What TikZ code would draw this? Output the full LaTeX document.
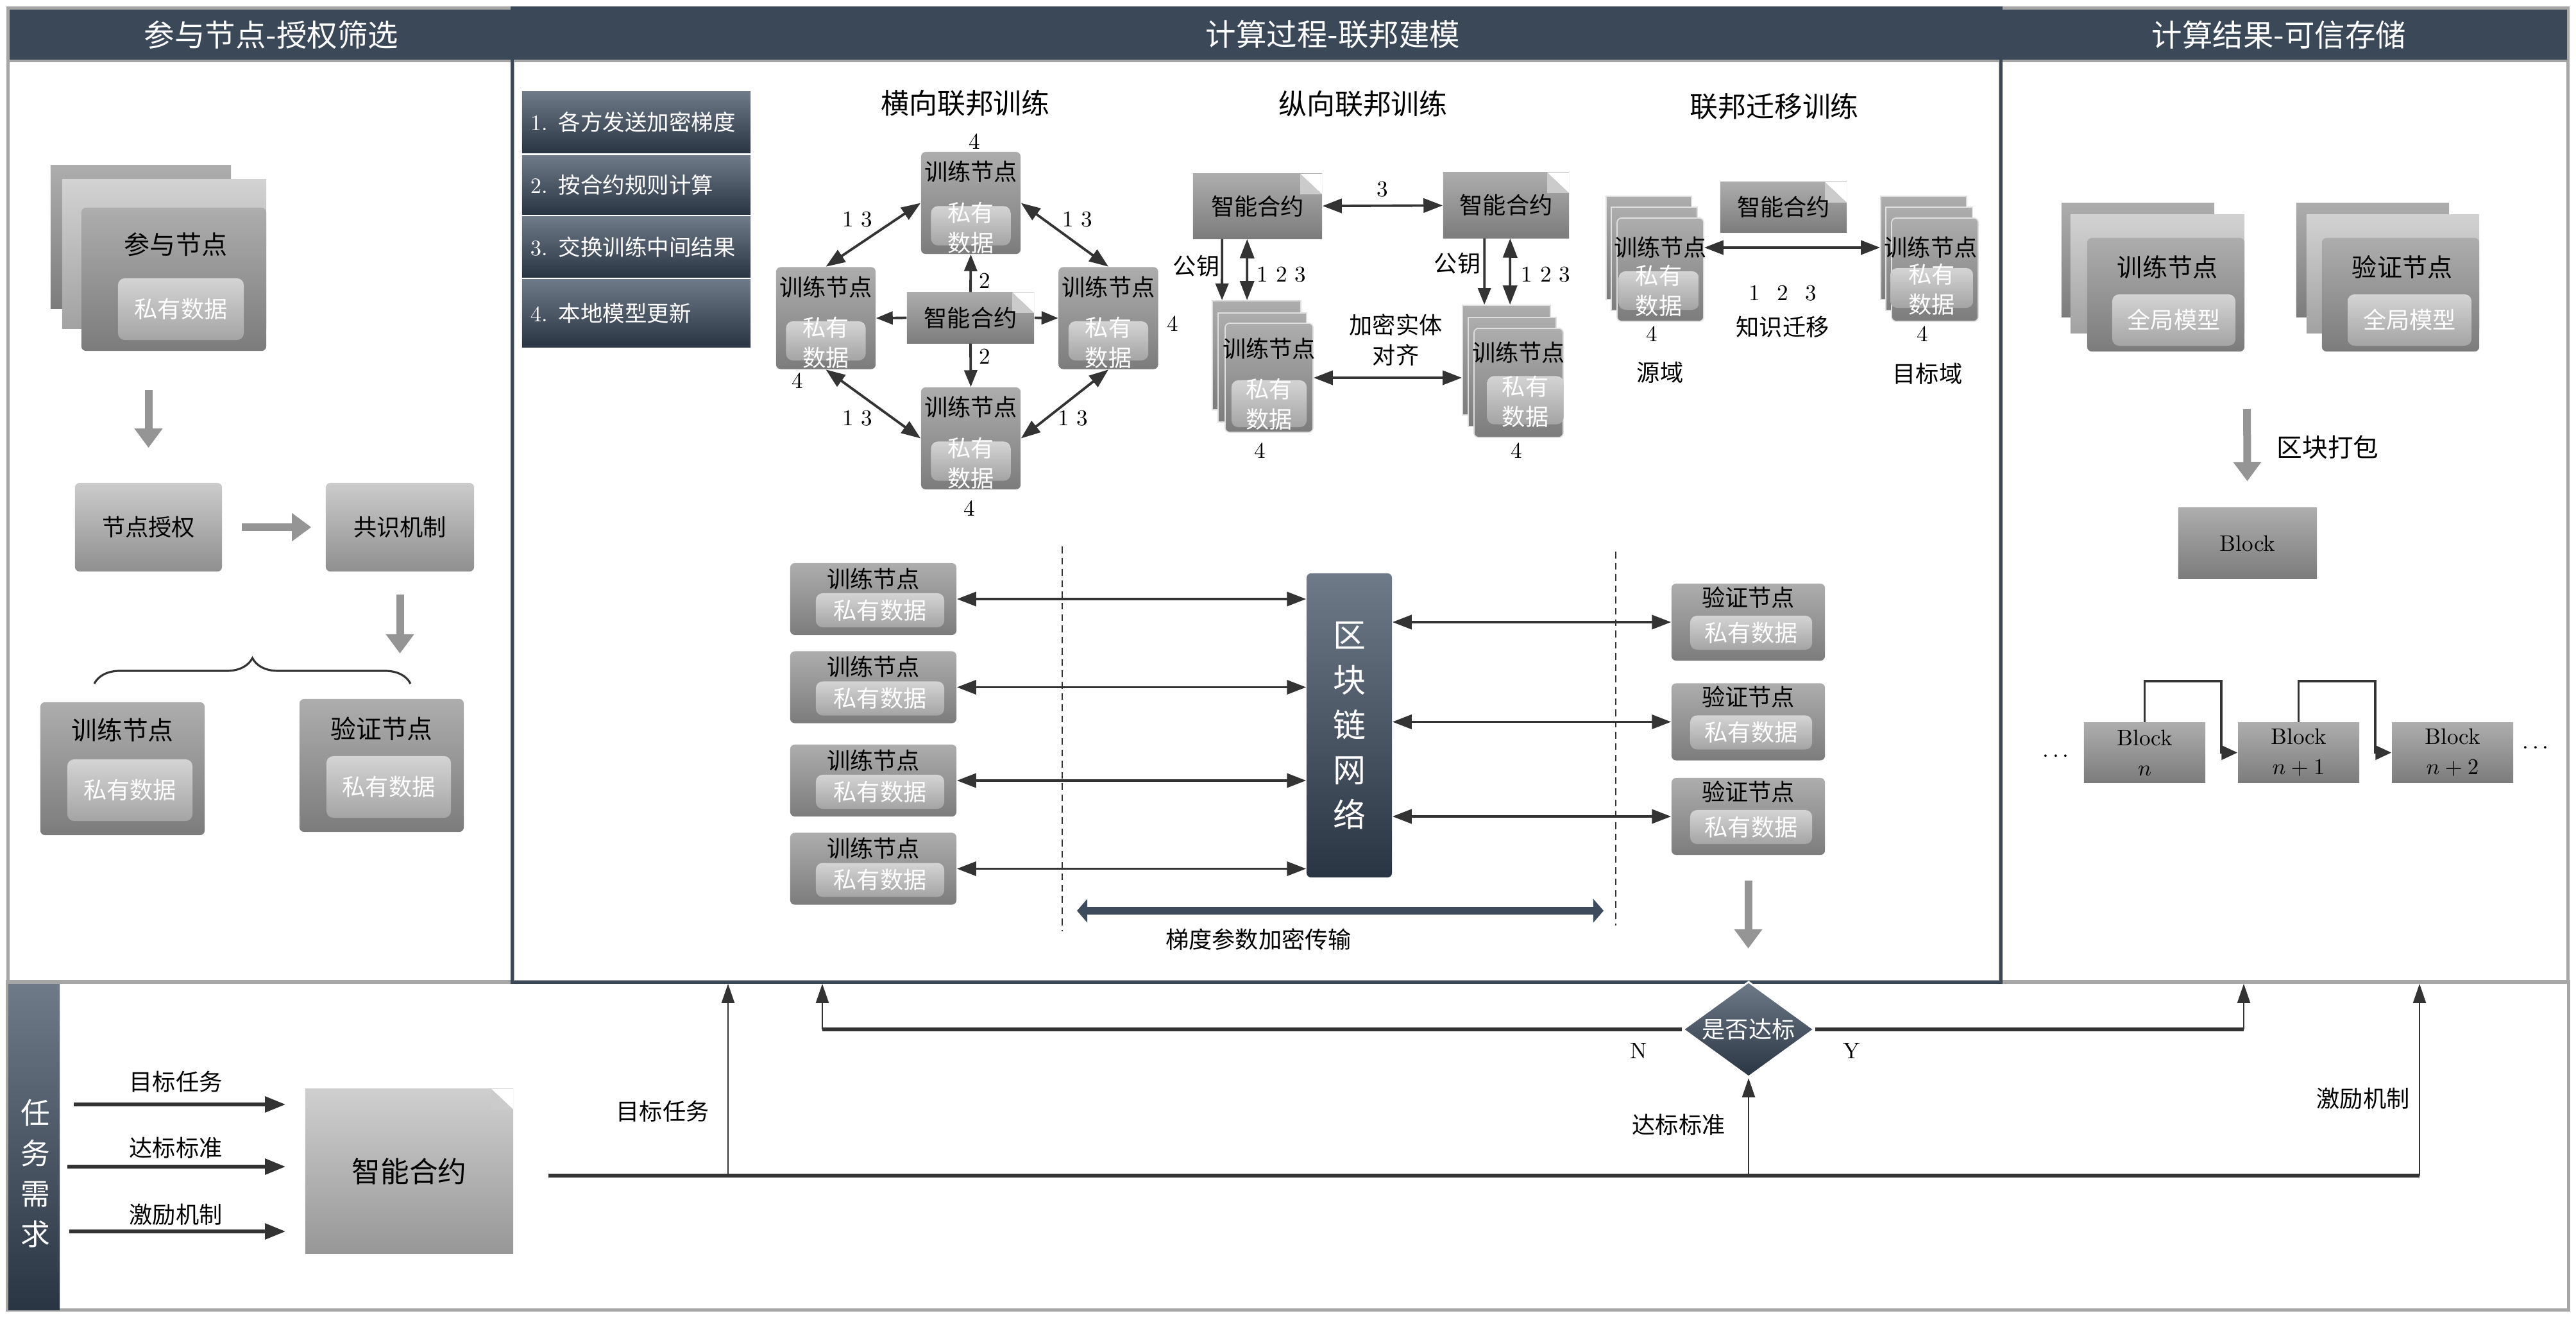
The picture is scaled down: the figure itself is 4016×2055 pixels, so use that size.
\documentclass[tikz,border=0pt]{standalone}
\usepackage{fontspec}
\newfontfamily\cjk{Noto Sans CJK SC}
\usetikzlibrary{arrows.meta,shapes.geometric,shadings,decorations.pathreplacing}
\newcommand\zh[2]{\cjk\fontsize{#1}{#2}\selectfont}
\definecolor{hdr}{HTML}{3A4858}
\definecolor{frame}{HTML}{A6A6A6}
\definecolor{slatetop}{HTML}{6E7A88}
\definecolor{slatebot}{HTML}{2A3544}
\definecolor{boxtop}{HTML}{ADADAD}
\definecolor{boxbot}{HTML}{7C7C7C}
\definecolor{midtop}{HTML}{D2D2D2}
\definecolor{midbot}{HTML}{A2A2A2}
\definecolor{ltop}{HTML}{CBCBCB}
\definecolor{lbot}{HTML}{8F8F8F}
\definecolor{intop}{HTML}{D4D4D4}
\definecolor{inbot}{HTML}{A4A4A4}
\definecolor{sctop}{HTML}{CFCFCF}
\definecolor{scbot}{HTML}{979797}
\definecolor{foldc}{HTML}{CBCBCB}
\definecolor{ln}{HTML}{333333}
\definecolor{garr}{HTML}{959595}
\definecolor{barc}{HTML}{3D4B5C}
\tikzset{
  sz/.style 2 args={minimum width=#1cm, minimum height=#2cm, inner sep=0pt},
  panel/.style={draw=frame, line width=1.4pt, inner sep=0pt},
  hd/.style={fill=hdr, draw=frame, line width=1pt, inner sep=0pt},
  htext/.style={text=white, inner sep=0pt, font=\zh{13.5}{16}},
  gbox/.style={rectangle, rounded corners=2pt, top color=boxtop, bottom color=boxbot},
  lbox/.style={rectangle, rounded corners=2pt, top color=ltop, bottom color=lbot},
  backbox/.style={rectangle, top color=boxtop, bottom color=boxbot},
  midbox/.style={rectangle, top color=midtop, bottom color=midbot},
  layer/.style={draw=white!75!gray, line width=0.5pt},
  inbox/.style={rectangle, rounded corners=3pt, top color=intop, bottom color=inbot},
  slate/.style={top color=slatetop, bottom color=slatebot, text=white},
  contract/.style={rectangle, top color=boxtop, bottom color=boxbot,
    path picture={
      \fill[white] ([xshift=-0.34cm]path picture bounding box.north east) -- (path picture bounding box.north east) -- ([yshift=-0.32cm]path picture bounding box.north east) -- cycle;
      \fill[foldc] ([xshift=-0.34cm]path picture bounding box.north east) -- ([yshift=-0.32cm]path picture bounding box.north east) -- ([xshift=-0.34cm,yshift=-0.32cm]path picture bounding box.north east) -- cycle;}},
  txt/.style={inner sep=0pt, font=\zh{10.3}{13.4}, align=center},
  wtxt/.style={txt, text=white},
  num/.style={inner sep=0pt, font=\fontsize{10}{12}\selectfont},
  dbl/.style={{Triangle[length=0.3cm,width=0.22cm]}-{Triangle[length=0.3cm,width=0.22cm]}, draw=ln, line width=1.1pt},
  sgl/.style={-{Triangle[length=0.26cm,width=0.2cm]}, draw=ln, line width=1.1pt},
  garrow/.style={-{Triangle[length=0.3cm,width=0.42cm]}, draw=garr, line width=0.12cm},
  bar/.style={{Triangle[length=0.16cm,width=0.36cm]}-{Triangle[length=0.16cm,width=0.36cm]}, draw=barc, line width=0.12cm},
  thk/.style={draw=ln, line width=1.8pt},
  upar/.style={-{Triangle[length=0.3cm,width=0.2cm]}, draw=ln, line width=0.7pt},
  inar/.style={-{Triangle[length=0.32cm,width=0.24cm]}, draw=ln, line width=1.6pt},
  chainar/.style={-{Triangle[length=0.25cm,width=0.22cm]}, draw=ln, line width=1.1pt}
}
\begin{document}
\begin{tikzpicture}[x=0.01cm, y=-0.01cm]
  \useasboundingbox (0,0) rectangle (4016,2055);
  \fill[white] (0,0) rectangle (4016,2055);

  \node[panel, sz={7.86}{15.18}] (lp) at (406,772) {};
  \node[panel, sz={8.84}{15.18}] (rp) at (3561,772) {};
  \node[panel, sz={39.90}{5.11}] (bp) at (2008,1786.5) {};
  \node[hd, sz={7.86}{0.82}] (lh) at (406,54) {};
  \node[hd, sz={23.20}{0.82}] (mh) at (1959,54) {};
  \node[hd, sz={8.84}{0.82}] (rh) at (3561,54) {};
  \node[panel, draw=hdr, sz={23.20}{15.18}] (mp) at (1959,772) {};
  \node[htext] (lht) at (423,54) {参与节点-授权筛选};
  \node[htext] (mht) at (2078,54) {计算过程-联邦建模};
  \node[htext] (rht) at (3553,54) {计算结果-可信存储};

  % left panel
  \node[backbox, sz={2.81}{2.23}] (pa) at (219.5,369.5) {};
  \node[midbox, sz={3.18}{2.32}] (pb) at (256,396) {};
  \node[gbox, sz={2.88}{2.23}] (p) at (271,435.5) {};
  \node[txt, font=\zh{11.4}{13}] (pt) at (274,381) {参与节点};
  \node[inbox, sz={1.96}{0.96}, wtxt] (pd) at (282,482) {私有数据};
  \node[lbox, sz={2.29}{1.38}, txt] (auth) at (231.5,822) {节点授权};
  \node[lbox, sz={2.31}{1.38}, txt] (cons) at (623.5,822) {共识机制};
  \coordinate (brl) at (147,1066);
  \coordinate (brr) at (640,1066);
  \draw[garrow, shorten <=0.6cm, shorten >=0.54cm] (auth.north |- p.south) -- (auth.north);
  \draw[garrow, shorten <=0.3cm, shorten >=0.22cm] (auth) -- (cons);
  \draw[garrow, shorten <=0.35cm, shorten >=0.47cm] (cons.south) -- (cons.south |- brr);
  \draw[draw=ln, line width=0.9pt, decorate, decoration={brace, amplitude=0.4cm}] (brl) -- (brr);
  \node[gbox, sz={2.56}{2.07}] (tr) at (191,1198.5) {};
  \node[txt, font=\zh{11.3}{13}] (trt) at (191,1138) {训练节点};
  \node[inbox, sz={1.95}{0.96}, wtxt] (trd) at (202.5,1232) {私有数据};
  \node[gbox, sz={2.56}{2.07}] (vr) at (595,1193.5) {};
  \node[txt, font=\zh{11.3}{13}] (vrt) at (595,1136) {验证节点};
  \node[inbox, sz={1.94}{0.96}, wtxt] (vrd) at (606,1227) {私有数据};

  % steps
  \foreach \i/\y/\h/\s in {1/190.5/0.95cm/各方发送加密梯度, 2/288.5/0.91cm/按合约规则计算, 3/385/0.94cm/交换训练中间结果, 4/488.5/1.05cm/本地模型更新}
    \node[slate, minimum width=3.56cm, minimum height=\h, inner xsep=0.13cm, inner ysep=0pt, text width=3.3cm, align=left, font=\zh{9.8}{12}] (st\i) at (992,\y) {{\rmfamily\i.} \s};

  \node[txt, font=\zh{12.5}{15}] (t1) at (1505,161) {横向联邦训练};
  \node[txt, font=\zh{12.5}{15}] (t2) at (2125,162) {纵向联邦训练};
  \node[txt, font=\zh{12.5}{15}] (t3) at (2766,166) {联邦迁移训练};

  % horizontal
  \foreach \n/\x/\y in {hT/1513.5/316.5, hL/1287.5/496, hR/1728/496, hB/1513.5/683.5} {
    \node[gbox, sz={1.55}{1.59}] (\n) at (\x,\y) {};
    \node[txt] (\n-t) at (\x,\y-48.5) {训练节点};
    \node[inbox, sz={1.24}{0.61}] (\n-d) at (\x,\y+35.5) {};
    \node[wtxt] (\n-dt) at (\x,\y+38.5) {私有\\数据};
  }
  \node[contract, sz={1.98}{0.79}, txt] (hC) at (1513,495.5) {智能合约};
  \draw[dbl] (hT.west) -- (hL.north);
  \draw[dbl] (hT.east) -- (hR.north);
  \draw[dbl] (hB.west) -- (hL.south);
  \draw[dbl] (hB.east) -- (hR.south);
  \draw[sgl] (hC.north) -- (hT.south);
  \draw[sgl] (hC.south) -- (hB.north);
  \draw[sgl] (hC.west) -- (hL.east);
  \draw[sgl] (hC.east) -- (hR.west);
  \node[num] (hk1) at (1519,221) {4};
  \node[num] (hk2) at (1243,594) {4};
  \node[num] (hk3) at (1828,505) {4};
  \node[num] (hk4) at (1511,793) {4};
  \node[num] (hm1) at (1337,342) {1 3};
  \node[num] (hm2) at (1680,342) {1 3};
  \node[num] (hm3) at (1337,652) {1 3};
  \node[num] (hm4) at (1673,652) {1 3};
  \node[num] (hs1) at (1535,438) {2};
  \node[num] (hs2) at (1535,556) {2};

  % vertical
  \node[contract, sz={2.01}{1.01}, txt] (vC1) at (1960.5,321.5) {智能合约};
  \node[contract, sz={1.96}{1.02}, txt] (vC2) at (2348,320) {智能合约};
  \draw[dbl] (vC1) -- (vC2);
  \node[num] (vk) at (2155,295) {3};
  \node[backbox, layer, sz={1.38}{1.70}] (v1a) at (1959,554) {};
  \node[backbox, layer, sz={1.38}{1.70}] (v1b) at (1968,573) {};
  \node[gbox, layer, sz={1.37}{1.70}] (v1) at (1978.5,589) {};
  \node[txt] (v1t) at (1978.5,544) {训练节点};
  \node[inbox, sz={1.17}{0.73}] (v1d) at (1978.5,629.5) {};
  \node[wtxt] (v1dt) at (1978.5,630) {私有\\数据};
  \node[backbox, layer, sz={1.37}{1.71}] (v2a) at (2348.5,561.5) {};
  \node[backbox, layer, sz={1.37}{1.70}] (v2b) at (2357.5,580) {};
  \node[gbox, layer, sz={1.39}{1.70}] (v2) at (2367.5,597) {};
  \node[txt] (v2t) at (2367.5,550) {训练节点};
  \node[inbox, sz={1.19}{0.75}] (v2d) at (2378,624) {};
  \node[wtxt] (v2dt) at (2378,626) {私有\\数据};
  \draw[sgl] ([xshift=0.46cm]vC1.south west) -- ([xshift=0.16cm]v1a.north west);
  \draw[dbl] ([xshift=0.85cm]vC1.south west) -- ([xshift=0.55cm]v1a.north west);
  \draw[sgl] ([xshift=0.65cm]vC2.south west) -- ([xshift=0.35cm]v2a.north west);
  \draw[dbl] ([xshift=1.05cm]vC2.south west) -- ([xshift=0.75cm]v2a.north west);
  \draw[dbl] (v1.east) -- (v1.east -| v2a.west);
  \node[txt] (vg1) at (1865,415) {公钥};
  \node[txt] (vg2) at (2272,411) {公钥};
  \node[num] (vn1) at (1998,428) {1 2 3};
  \node[num] (vn2) at (2410,428) {1 2 3};
  \node[txt] (val) at (2176,530) {加密实体\\对齐};
  \node[num] (vk1) at (1964,703) {4};
  \node[num] (vk2) at (2364,703) {4};

  % transfer
  \node[contract, sz={1.97}{0.78}, txt] (tC) at (2780.5,323) {智能合约};
  \node[backbox, layer, sz={1.33}{1.61}] (sa) at (2570.5,386.5) {};
  \node[backbox, layer, sz={1.34}{1.61}] (sb) at (2579,403.5) {};
  \node[gbox, layer, sz={1.35}{1.61}] (s) at (2588.5,420.5) {};
  \node[txt] (st) at (2588.5,386) {训练节点};
  \node[inbox, sz={1.25}{0.60}] (sd) at (2586,453) {};
  \node[wtxt] (sdt) at (2586,453) {私有\\数据};
  \node[backbox, layer, sz={1.34}{1.61}] (ta) at (2999,386.5) {};
  \node[backbox, layer, sz={1.35}{1.61}] (tb) at (3007.5,403.5) {};
  \node[gbox, layer, sz={1.35}{1.61}] (t) at (3016.5,420.5) {};
  \node[txt] (tt) at (3010,386) {训练节点};
  \node[inbox, sz={1.29}{0.62}] (td) at (3011.5,449) {};
  \node[wtxt] (tdt) at (3011.5,451) {私有\\数据};
  \draw[dbl] (st -| s.east) -- (st -| ta.west);
  \node[num] (tn) at (2779,457) {1\hspace{0.75em}2\hspace{0.75em}3};
  \node[txt] (tk) at (2779,510) {知识迁移};
  \node[num] (tk1) at (2575,521) {4};
  \node[num] (tk2) at (2997,521) {4};
  \node[txt] (src) at (2588,581) {源域};
  \node[txt] (dst) at (3005,583) {目标域};

  % blockchain network
  \coordinate (d1t) at (1656,852);
  \coordinate (d1b) at (1656,1452);
  \coordinate (d2t) at (2519,860);
  \coordinate (d2b) at (2519,1443);
  \draw[draw=ln, line width=0.5pt, dash pattern=on 3pt off 2pt] (d1t) -- (d1b);
  \draw[draw=ln, line width=0.5pt, dash pattern=on 3pt off 2pt] (d2t) -- (d2b);
  \node[slate, rounded corners=2pt, sz={1.33}{4.74}, align=center, font=\zh{14.5}{19.9}] (bc) at (2103.5,1131) {区\\块\\链\\网\\络};
  \foreach \i/\y in {1/934, 2/1071.5, 3/1217, 4/1354.5} {
    \node[gbox, sz={2.59}{1.12}] (L\i) at (1361.5,\y) {};
    \node[txt] (L\i-t) at (1361.5,\y-31.5) {训练节点};
    \node[inbox, sz={2.00}{0.53}, wtxt] (L\i-d) at (1372,\y+17.5) {私有数据};
    \draw[dbl] (L\i.east) -- (L\i.east -| bc.west);
  }
  \foreach \i/\y in {1/970, 2/1125.5, 3/1273} {
    \node[gbox, sz={2.39}{1.20}] (R\i) at (2725.5,\y) {};
    \node[txt] (R\i-t) at (2725.5,\y-38.5) {验证节点};
    \node[inbox, sz={1.90}{0.53}, wtxt] (R\i-d) at (2730,\y+16.5) {私有数据};
    \draw[dbl] (bc.east |- R\i) -- (R\i.west);
  }
  \coordinate (gl) at (1679,1420);
  \coordinate (gr) at (2500,1420);
  \draw[bar] (gl) -- (gr);
  \node[txt] (gt) at (1962,1465) {梯度参数加密传输};
  \draw[garrow, shorten <=0.39cm, shorten >=0.55cm] (R3.south) -- (R3.south |- mp.south);

  % right panel
  \node[backbox, sz={2.38}{1.77}] (rta) at (3333,405.5) {};
  \node[midbox, sz={2.71}{1.84}] (rtb) at (3363.5,427) {};
  \node[gbox, sz={2.45}{1.77}] (rt) at (3376.5,459.5) {};
  \node[txt, font=\zh{11.1}{13}] (rtt) at (3379,417) {训练节点};
  \node[inbox, sz={1.92}{0.80}, wtxt] (rtd) at (3389,499) {全局模型};
  \node[backbox, sz={2.38}{1.77}] (rva) at (3699,405.5) {};
  \node[midbox, sz={2.69}{1.84}] (rvb) at (3730.5,427) {};
  \node[gbox, sz={2.45}{1.77}] (rv) at (3742.5,459.5) {};
  \node[txt, font=\zh{11.1}{13}] (rvt) at (3745,417) {验证节点};
  \node[inbox, sz={1.93}{0.80}, wtxt] (rvd) at (3756.5,499) {全局模型};
  \coordinate (pack) at (3503,638);
  \node[backbox, sz={2.16}{1.10}, num] (blk) at (3504,847) {Block};
  \draw[garrow, shorten >=0.41cm] (pack) -- (blk);
  \node[txt, font=\zh{11.3}{13}] (packt) at (3629,697) {区块打包};
  \node[backbox, sz={1.89}{0.93}, num, align=center, font=\fontsize{10}{13.4}\selectfont] (bn) at (3343.5,1173.5) {Block\\$n$};
  \node[backbox, sz={1.89}{0.93}, num, align=center, font=\fontsize{10}{13.4}\selectfont] (bn1) at (3583.5,1173.5) {Block\\$n+1$};
  \node[backbox, sz={1.89}{0.93}, num, align=center, font=\fontsize{10}{13.4}\selectfont] (bn2) at (3823.5,1173.5) {Block\\$n+2$};
  \draw[chainar] (bn.north) -- ++(0,-64) -| ([xshift=-0.25cm]bn1.west) -- (bn1.west);
  \draw[chainar] (bn1.north) -- ++(0,-64) -| ([xshift=-0.25cm]bn2.west) -- (bn2.west);
  \node[num] (dl) at (3205,1180) {$\cdots$};
  \node[num] (dr) at (3953,1167) {$\cdots$};

  % bottom panel
  \node[slate, sz={0.80}{5.07}] (strip) at (53,1788.5) {};
  \node[wtxt, font=\zh{13}{17.9}] (stript) at (55,1830) {任\\务\\需\\求};
  \node[contract, top color=sctop, bottom color=scbot, sz={3.24}{2.56}, txt, font=\zh{12.7}{15}] (sc) at (638,1826) {智能合约};
  \coordinate (a1) at (115,1722);
  \coordinate (a2) at (105,1819);
  \coordinate (a3) at (108,1920);
  \draw[inar, shorten >=0.3cm] (a1) -- (a1 -| sc.west);
  \draw[inar, shorten >=0.3cm] (a2) -- (a2 -| sc.west);
  \draw[inar, shorten >=0.3cm] (a3) -- (a3 -| sc.west);
  \node[txt] (il1) at (274,1687) {目标任务};
  \node[txt] (il2) at (274,1790) {达标标准};
  \node[txt] (il3) at (274,1894) {激励机制};
  \node[diamond, slate, draw=white, line width=0.8pt, aspect=1.4, inner sep=0pt, minimum width=2.05cm, minimum height=1.49cm, font=\zh{10.3}{12}] (dm) at (2726,1605) {是否达标};
  \coordinate (m0) at (855,1833);
  \coordinate (j1) at (1135,1833);
  \coordinate (j2) at (2726,1833);
  \coordinate (m1) at (3772,1833);
  \coordinate (nb) at (1282,1605);
  \coordinate (yb) at (3498,1605);
  \draw[thk] (m0) -- (m1);
  \draw[upar] (j1) -- (j1 |- mp.south);
  \draw[upar] (j2) -- (dm.south);
  \draw[upar] (m1) -- (m1 |- rp.south);
  \draw[thk] (dm.west) -- (nb);
  \draw[upar] (nb) -- (nb |- mp.south);
  \draw[thk] (dm.east) -- (yb);
  \draw[upar] (yb) -- (yb |- rp.south);
  \node[txt] (jl1) at (1033,1733) {目标任务};
  \node[txt] (jl2) at (2617,1754) {达标标准};
  \node[txt] (jl3) at (3684,1713) {激励机制};
  \node[num] (nl) at (2555,1638) {N};
  \node[num] (yl) at (2887,1638) {Y};
\end{tikzpicture}
\end{document}
